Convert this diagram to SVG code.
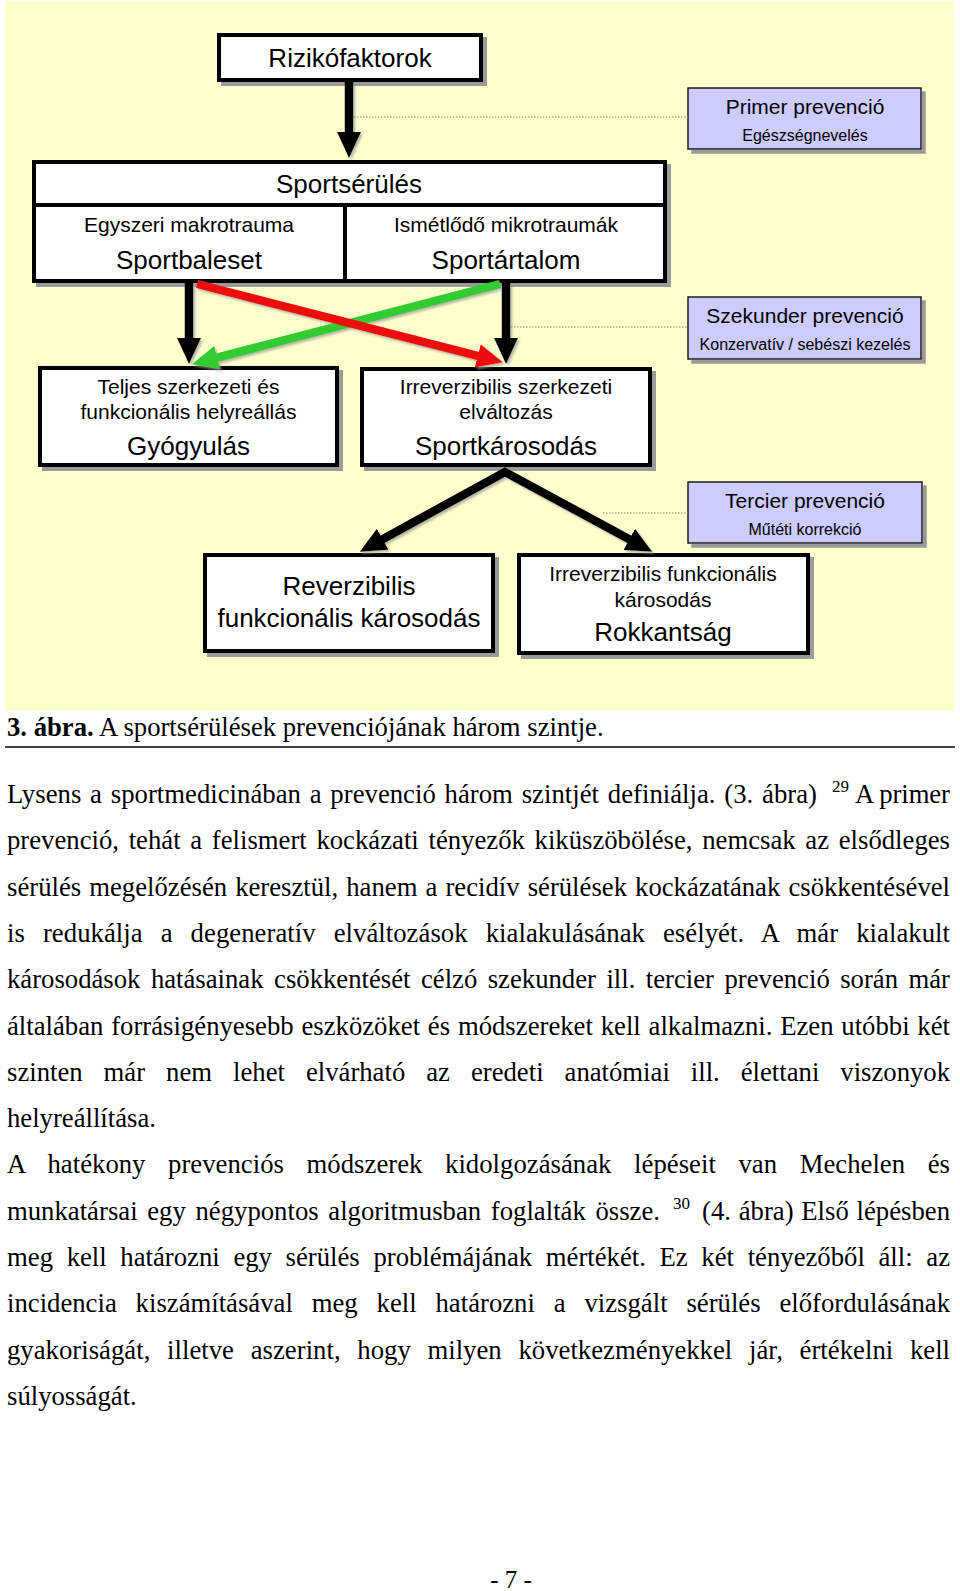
<svg xmlns="http://www.w3.org/2000/svg" width="960" height="1591" viewBox="0 0 960 1591">
<defs>
<style>
.box{fill:#fff;stroke:#000;stroke-width:4}
.prev{fill:#CCCCFF;stroke:#1a1a1a;stroke-width:1.5}
.div{stroke:#000;stroke-width:4}
.t{font-family:"Liberation Sans",Arial,sans-serif;fill:#000;text-anchor:middle}
.big{font-size:26px}
.mid{font-size:21px}
.small{font-size:16px}
.body{font-family:"Liberation Serif","Times New Roman",serif;font-size:26.7px;fill:#000}
.sup{font-family:"Liberation Serif","Times New Roman",serif;font-size:17px;fill:#000}
.dot{stroke:#8c8c70;stroke-width:1.2;stroke-dasharray:1.5 1.5;fill:none}
.conn{fill:none;stroke-width:8.5}
</style>
<filter id="sh" x="-10%" y="-10%" width="125%" height="140%">
<feDropShadow dx="4" dy="4" stdDeviation="0.6" flood-color="#9a9a9a" flood-opacity="1"/>
</filter>
<filter id="lsh" filterUnits="userSpaceOnUse" x="0" y="0" width="960" height="760">
<feDropShadow dx="2" dy="2" stdDeviation="0.8" flood-color="#9a9a9a" flood-opacity="0.7"/>
</filter>
<marker id="ahK" markerUnits="userSpaceOnUse" markerWidth="26" markerHeight="24" viewBox="0 0 26 24" refX="1" refY="12" orient="auto-start-reverse"><path d="M0,0 L26,12 L0,24 z" fill="#000"/></marker>
<marker id="ahR" markerUnits="userSpaceOnUse" markerWidth="26" markerHeight="24" viewBox="0 0 26 24" refX="1" refY="12" orient="auto"><path d="M0,0 L26,12 L0,24 z" fill="#EE1111"/></marker>
<marker id="ahG" markerUnits="userSpaceOnUse" markerWidth="26" markerHeight="24" viewBox="0 0 26 24" refX="1" refY="12" orient="auto"><path d="M0,0 L26,12 L0,24 z" fill="#33CC33"/></marker>
</defs>

<rect x="0" y="0" width="960" height="1591" fill="#fff"/>
<rect x="5" y="1" width="949" height="710" fill="#FFFFCC"/>

<g id="rizikofaktorok">
<rect class="box" x="219" y="35" width="262" height="45" filter="url(#sh)"/>
<text class="t big" x="350" y="67">Rizikófaktorok</text>
</g>

<g id="sportserules">
<rect class="box" x="34" y="162" width="631" height="119" filter="url(#sh)"/>
<line class="div" x1="34" y1="205" x2="665" y2="205"/>
<line class="div" x1="345" y1="205" x2="345" y2="281"/>
<text class="t big" x="349" y="193">Sportsérülés</text>
<text class="t mid" x="189" y="232">Egyszeri makrotrauma</text>
<text class="t big" x="189" y="269">Sportbaleset</text>
<text class="t mid" x="506" y="232">Ismétlődő mikrotraumák</text>
<text class="t big" x="506" y="269">Sportártalom</text>
</g>

<g id="primer">
<rect class="prev" x="688" y="88" width="233" height="61" filter="url(#sh)"/>
<text class="t mid" x="805" y="114">Primer prevenció</text>
<text class="t small" x="805" y="141">Egészségnevelés</text>
</g>

<g id="szekunder">
<rect class="prev" x="688" y="297" width="233" height="62" filter="url(#sh)"/>
<text class="t mid" x="805" y="323">Szekunder prevenció</text>
<text class="t small" x="805" y="350">Konzervatív / sebészi kezelés</text>
</g>

<g id="tercier">
<rect class="prev" x="688" y="482" width="234" height="61" filter="url(#sh)"/>
<text class="t mid" x="805" y="508">Tercier prevenció</text>
<text class="t small" x="805" y="535">Műtéti korrekció</text>
</g>

<g id="gyogyulas">
<rect class="box" x="40" y="368" width="297" height="97" filter="url(#sh)"/>
<text class="t mid" x="188.5" y="394">Teljes szerkezeti és</text>
<text class="t mid" x="188.5" y="419">funkcionális helyreállás</text>
<text class="t big" x="188.5" y="455">Gyógyulás</text>
</g>

<g id="sportkarosodas">
<rect class="box" x="362" y="369" width="288" height="96" filter="url(#sh)"/>
<text class="t mid" x="506" y="394">Irreverzibilis szerkezeti</text>
<text class="t mid" x="506" y="419">elváltozás</text>
<text class="t big" x="506" y="455">Sportkárosodás</text>
</g>

<g id="reverzibilis">
<rect class="box" x="205" y="555" width="288" height="96" filter="url(#sh)"/>
<text class="t big" x="349" y="595">Reverzibilis</text>
<text class="t big" x="349" y="627">funkcionális károsodás</text>
</g>

<g id="rokkantsag">
<rect class="box" x="519" y="555" width="289" height="98" filter="url(#sh)"/>
<text class="t mid" x="663" y="581">Irreverzibilis funkcionális</text>
<text class="t mid" x="663" y="607">károsodás</text>
<text class="t big" x="663" y="641">Rokkantság</text>
</g>

<g id="connectors">
<line class="dot" x1="354" y1="117" x2="688" y2="117"/>
<line class="dot" x1="511" y1="327" x2="688" y2="327"/>
<line class="dot" x1="603" y1="513" x2="688" y2="513"/>
<g filter="url(#lsh)">
<line class="conn" stroke="#33CC33" x1="500" y1="284" x2="216.2" y2="357.9" marker-end="url(#ahG)"/>
<line class="conn" stroke="#EE1111" x1="197" y1="284" x2="478.7" y2="356.05" marker-end="url(#ahR)"/>
<line class="conn" stroke="#000" x1="349" y1="82" x2="349" y2="133" marker-end="url(#ahK)"/>
<line class="conn" stroke="#000" x1="189" y1="283" x2="189" y2="339" marker-end="url(#ahK)"/>
<line class="conn" stroke="#000" x1="506" y1="283" x2="506" y2="339" marker-end="url(#ahK)"/>
<path class="conn" stroke="#000" stroke-linejoin="miter" d="M381.8,539.7 L505,472 L630.2,539.8" marker-start="url(#ahK)" marker-end="url(#ahK)"/>
</g>
</g>

<text class="body" x="7" y="736"><tspan font-weight="bold">3. ábra.</tspan> A sportsérülések prevenciójának három szintje.</text>
<line x1="5" y1="747" x2="955" y2="747" stroke="#000" stroke-width="1.5"/>

<text class="body" x="7" y="803" textLength="810" lengthAdjust="spacing" style="word-spacing:2.1px">Lysens a sportmedicinában a prevenció három szintjét definiálja. (3. ábra)</text>
<text class="sup" x="832" y="792">29</text>
<text class="body" x="855" y="803" textLength="95" lengthAdjust="spacing">A primer</text>
<text class="body" x="7" y="849.3" textLength="943" lengthAdjust="spacing" style="word-spacing:3px">prevenció, tehát a felismert kockázati tényezők kiküszöbölése, nemcsak az elsődleges</text>
<text class="body" x="7" y="895.6" textLength="943" lengthAdjust="spacing" style="word-spacing:1.4px">sérülés megelőzésén keresztül, hanem a recidív sérülések kockázatának csökkentésével</text>
<text class="body" x="7" y="941.9" textLength="943" lengthAdjust="spacing" style="word-spacing:11.3px">is redukálja a degeneratív elváltozások kialakulásának esélyét. A már kialakult</text>
<text class="body" x="7" y="988.2" textLength="943" lengthAdjust="spacing" style="word-spacing:3.8px">károsodások hatásainak csökkentését célzó szekunder ill. tercier prevenció során már</text>
<text class="body" x="7" y="1034.5" textLength="943" lengthAdjust="spacing" style="word-spacing:1.1px">általában forrásigényesebb eszközöket és módszereket kell alkalmazni. Ezen utóbbi két</text>
<text class="body" x="7" y="1080.8" textLength="943" lengthAdjust="spacing" style="word-spacing:14.3px">szinten már nem lehet elvárható az eredeti anatómiai ill. élettani viszonyok</text>
<text class="body" x="7" y="1127.1">helyreállítása.</text>
<text class="body" x="7" y="1173.4" textLength="943" lengthAdjust="spacing" style="word-spacing:15.9px">A hatékony prevenciós módszerek kidolgozásának lépéseit van Mechelen és</text>
<text class="body" x="7" y="1219.7" textLength="653" lengthAdjust="spacing" style="word-spacing:3px">munkatársai egy négypontos algoritmusban foglalták össze.</text>
<text class="sup" x="673" y="1209">30</text>
<text class="body" x="702" y="1219.7" textLength="248" lengthAdjust="spacing" style="word-spacing:1px">(4. ábra) Első lépésben</text>
<text class="body" x="7" y="1266" textLength="943" lengthAdjust="spacing" style="word-spacing:7px">meg kell határozni egy sérülés problémájának mértékét. Ez két tényezőből áll: az</text>
<text class="body" x="7" y="1312.3" textLength="943" lengthAdjust="spacing" style="word-spacing:12.2px">incidencia kiszámításával meg kell határozni a vizsgált sérülés előfordulásának</text>
<text class="body" x="7" y="1358.6" textLength="943" lengthAdjust="spacing" style="word-spacing:10px">gyakoriságát, illetve aszerint, hogy milyen következményekkel jár, értékelni kell</text>
<text class="body" x="7" y="1404.9">súlyosságát.</text>

<text class="body" x="511" y="1588" text-anchor="middle" style="font-size:25px">- 7 -</text>
</svg>
